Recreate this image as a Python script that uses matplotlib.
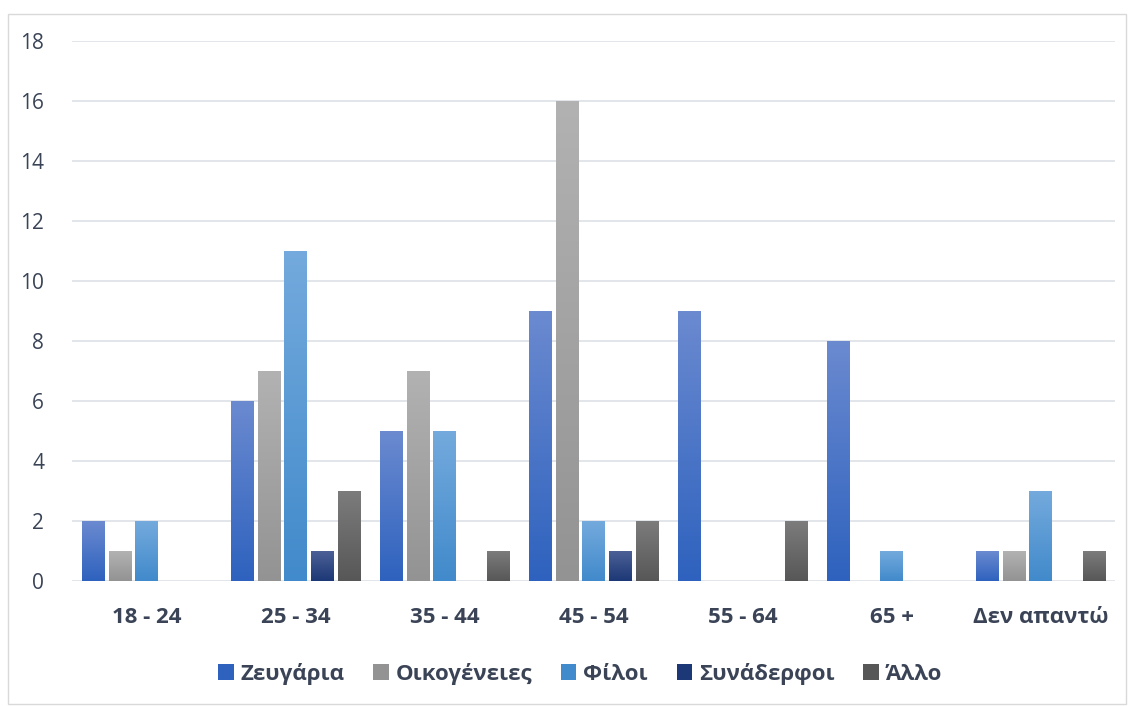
import numpy as np
import matplotlib
matplotlib.use("Agg")
import matplotlib.pyplot as plt
from matplotlib.colors import LinearSegmentedColormap
from matplotlib.patches import Rectangle

categories = ["18 - 24", "25 - 34", "35 - 44", "45 - 54", "55 - 64", "65 +", "Δεν απαντώ"]
series_names = ["Ζευγάρια", "Οικογένειες", "Φίλοι", "Συνάδερφοι", "Άλλο"]
zeugaria = [2, 6, 5, 9, 9, 8, 1]
oikogeneies = [1, 7, 7, 16, 0, 0, 1]
filoi = [2, 11, 5, 2, 0, 1, 3]
synaderfoi = [0, 1, 0, 1, 0, 0, 0]
allo = [0, 3, 1, 2, 2, 0, 1]
series_values = [zeugaria, oikogeneies, filoi, synaderfoi, allo]
yticks = [0, 2, 4, 6, 8, 10, 12, 14, 16, 18]

grad = [("#6B8AD0", "#2E62BE"), ("#B2B2B2", "#939393"), ("#74AADD", "#418ACB"),
        ("#4C6096", "#1C3876"), ("#7C7C7C", "#575757")]
text_col = "#3A4456"

plt.rcParams['font.family'] = ['Open Sans', 'DejaVu Sans']
fig = plt.figure(figsize=(11.32, 7.06), dpi=100)
ax = fig.add_axes([72/1132, 125/706, 1043/1132, 540/706])

n = len(series_names)
step = 0.178
width = 0.148
x = np.arange(len(categories))
grad_img = np.linspace(1, 0, 256).reshape(-1, 1)
for i, (name, vals) in enumerate(zip(series_names, series_values)):
    offs = (i - (n - 1) / 2) * step
    cmap = LinearSegmentedColormap.from_list(name, [grad[i][1], grad[i][0]])
    bars = ax.bar(x + offs, vals, width, color=grad[i][1], label=name, zorder=2)
    for b in bars:
        h = b.get_height()
        if h <= 0:
            continue
        x0 = b.get_x()
        im = ax.imshow(grad_img, cmap=cmap, aspect='auto',
                       extent=[x0, x0 + b.get_width(), 0, h], zorder=3,
                       interpolation='bilinear', vmin=0, vmax=1)
        im.set_clip_path(b)

ax.set_xlim(-0.5, len(categories) - 0.5)
ax.set_ylim(0, 18)
ax.set_yticks(yticks)
ax.set_xticks(x)
ax.set_xticklabels(categories, fontsize=16, fontweight='bold', color=text_col)
ax.tick_params(axis='y', labelsize=15, labelcolor=text_col, length=0, pad=20)
ax.tick_params(axis='x', length=0, pad=19)
ax.grid(axis='y', color="#DDE1E6", linewidth=1.2, zorder=0)
ax.set_axisbelow(True)
for s in ax.spines.values():
    s.set_visible(False)

fig.patches.append(Rectangle((8/1132, 2/706), 1118/1132, 690/706, transform=fig.transFigure,
                             fill=False, edgecolor="#D9D9D9", linewidth=1))

handles = [Rectangle((0, 0), 1, 1, facecolor=grad[i][1]) for i in range(n)]
leg = fig.legend(handles, series_names, loc='center', bbox_to_anchor=(580/1132, 1 - 674/706),
                 ncol=n, frameon=False, handlelength=0.7, handleheight=0.7,
                 handletextpad=0.3, columnspacing=1.3,
                 prop={'size': 16, 'weight': 'bold'})
for t in leg.get_texts():
    t.set_color(text_col)

fig.savefig("out.png", dpi=100)
